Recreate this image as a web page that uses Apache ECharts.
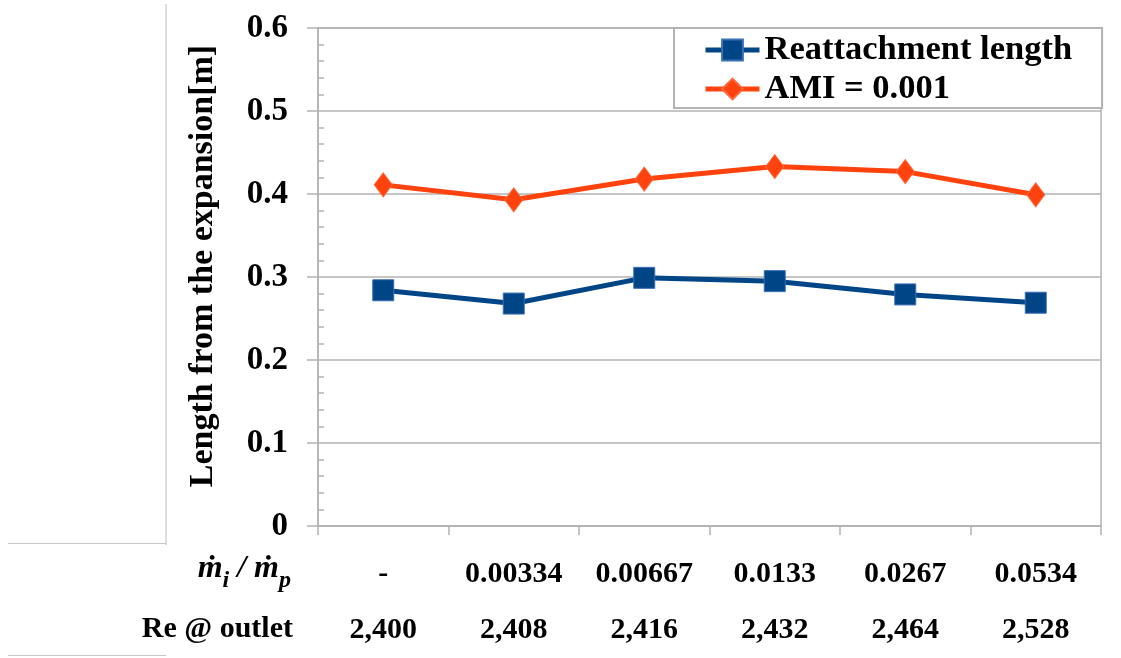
<!DOCTYPE html>
<html>
<head>
<meta charset="utf-8">
<script src="https://cdn.jsdelivr.net/npm/echarts@6/dist/echarts.min.js"></script>
<style>
  html, body { margin: 0; padding: 0; background: #ffffff; }
  #chart { width: 1121px; height: 658px; }
</style>
</head>
<body>
<div id="chart"></div>
<script>
// Injection ratio row and outlet Reynolds number row under each category
const ratioLabels = ['-', '0.00334', '0.00667', '0.0133', '0.0267', '0.0534'];
const reLabels = ['2,400', '2,408', '2,416', '2,432', '2,464', '2,528'];

// Lengths measured from the expansion [m]
const reattachment = [0.284, 0.268, 0.299, 0.295, 0.279, 0.269];
const ami = [0.411, 0.393, 0.418, 0.433, 0.427, 0.399];

const seriesNames = ['Reattachment length', 'AMI = 0.001'];

const FONT = "'Liberation Serif', 'Times New Roman', serif";
const GRID_GRAY = '#b3b3b3';
const BLUE = '#004586';
const ORANGE = '#ff420e';

const chart = echarts.init(document.getElementById('chart'), null, { renderer: 'canvas' });

chart.setOption({
  animation: false,
  backgroundColor: '#ffffff',
  grid: {
    left: 318, top: 28, right: 20, bottom: 132,
    show: true, borderColor: GRID_GRAY, borderWidth: 1.5
  },
  legend: {
    orient: 'vertical',
    left: 674, top: 28,
    padding: [4, 30, 1, 29],
    itemWidth: 54, itemHeight: 26, itemGap: 3,
    backgroundColor: '#ffffff',
    borderColor: GRID_GRAY, borderWidth: 2,
    lineStyle: { width: 5 },
    textStyle: { fontFamily: FONT, fontWeight: 'bold', fontSize: 34.5, lineHeight: 36, color: '#000' },
    data: seriesNames
  },
  xAxis: {
    type: 'category',
    data: ratioLabels,
    boundaryGap: true,
    axisLine: { show: true, lineStyle: { color: GRID_GRAY, width: 1.5 } },
    axisTick: { show: true, length: 9, alignWithLabel: false, lineStyle: { color: GRID_GRAY, width: 1.5 } },
    axisLabel: {
      margin: 20,
      interval: 0,
      fontFamily: FONT, fontWeight: 'bold', fontSize: 30, lineHeight: 56, color: '#000',
      formatter: (value, idx) => value + '\n' + reLabels[idx]
    },
    splitLine: { show: false }
  },
  yAxis: [
    {
      type: 'value',
      min: 0, max: 0.6, interval: 0.1,
      name: 'Length from the expansion[m]',
      nameLocation: 'middle',
      nameGap: 98,
      nameRotate: 90,
      nameTextStyle: {
        fontFamily: FONT, fontWeight: 'bold', fontSize: 34, color: '#000',
        padding: [0, 0, 0, 22]
      },
      axisLine: { show: true, lineStyle: { color: GRID_GRAY, width: 1.5 } },
      axisTick: { show: true, length: 11, lineStyle: { color: GRID_GRAY, width: 1.5 } },
      axisLabel: {
        margin: 30,
        fontFamily: FONT, fontWeight: 'bold', fontSize: 33, color: '#000'
      },
      splitLine: { show: true, lineStyle: { color: GRID_GRAY, width: 1.5 } }
    },
    {
      // overlay axis that only carries the short inner minor ticks
      type: 'value',
      position: 'left',
      min: 0, max: 0.6, interval: 0.1,
      axisLine: { show: false },
      axisTick: { show: false, inside: true },
      minorTick: { show: true, splitNumber: 5, length: 6, lineStyle: { color: GRID_GRAY, width: 1.5 } },
      axisLabel: { show: false },
      splitLine: { show: false }
    }
  ],
  series: [
    {
      name: seriesNames[0],
      type: 'line',
      data: reattachment,
      symbol: 'rect',
      symbolSize: 21,
      lineStyle: { color: BLUE, width: 5 },
      itemStyle: { color: BLUE, borderColor: '#3b6fb6', borderWidth: 1 },
      z: 3
    },
    {
      name: seriesNames[1],
      type: 'line',
      data: ami,
      symbol: 'diamond',
      symbolSize: [18, 24],
      lineStyle: { color: ORANGE, width: 5 },
      itemStyle: { color: ORANGE, borderColor: '#ff6a3a', borderWidth: 1 },
      z: 3
    }
  ],
  graphic: [
    // row headers for the two label rows under the axis
    {
      type: 'text',
      right: 1121 - 291,
      top: 574 - 21,
      style: {
        text: '{m|ṁ}{s|i}{m| / ṁ}{s|p}',
        align: 'right',
        rich: {
          m: { fontFamily: FONT, fontWeight: 'bold', fontStyle: 'italic', fontSize: 32, fill: '#000', verticalAlign: 'bottom', padding: [0, 0, 8, 0] },
          s: { fontFamily: FONT, fontWeight: 'bold', fontStyle: 'italic', fontSize: 24, fill: '#000', verticalAlign: 'bottom' }
        }
      }
    },
    {
      type: 'text',
      right: 1121 - 293,
      top: 630 - 16,
      style: {
        text: 'Re @ outlet',
        fontFamily: FONT, fontWeight: 'bold', fontSize: 30, fill: '#000'
      }
    },
    // frame lines of the surrounding cells
    {
      type: 'line', silent: true,
      shape: { x1: 166, y1: 4, x2: 166, y2: 545 },
      style: { stroke: '#c8c8c8', lineWidth: 1.2 }
    },
    {
      type: 'line', silent: true,
      shape: { x1: 8, y1: 543.5, x2: 166, y2: 543.5 },
      style: { stroke: '#c8c8c8', lineWidth: 1.2 }
    },
    {
      type: 'line', silent: true,
      shape: { x1: 8, y1: 655.5, x2: 166, y2: 655.5 },
      style: { stroke: '#c8c8c8', lineWidth: 1.2 }
    }
  ]
});
</script>
</body>
</html>
